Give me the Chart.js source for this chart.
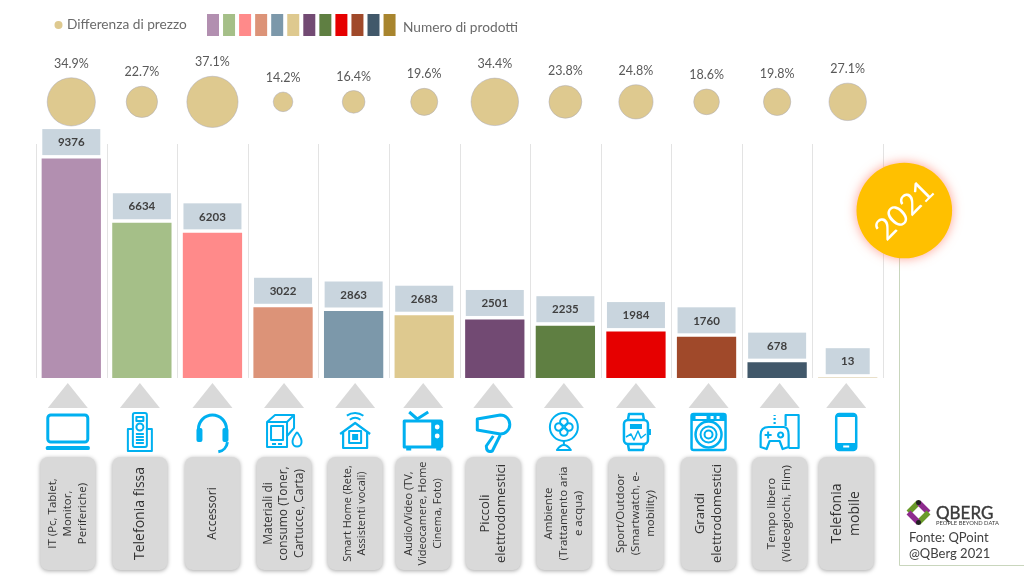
<!DOCTYPE html>
<html lang="it">
<head>
<meta charset="utf-8">
<title>Differenza di prezzo e numero di prodotti 2021</title>
<script src="https://cdn.jsdelivr.net/npm/chart.js@4"></script>
<style>
  html, body { margin: 0; background: #fff; }
  canvas { display: block; }
</style>
</head>
<body>
<canvas id="chart" width="1024" height="576"></canvas>
<script>
// dati
const categoryLines = [
  ['IT (Pc, Tablet,', 'Monitor,', 'Periferiche)'],
  ['Telefonia fissa'],
  ['Accessori'],
  ['Materiali di', 'consumo (Toner,', 'Cartucce, Carta)'],
  ['Smart Home (Rete,', 'Assistenti vocali)'],
  ['Audio/Video (TV,', 'Videocamere, Home', 'Cinema, Foto)'],
  ['Piccoli', 'elettrodomestici'],
  ['Ambiente', '(Trattamento aria', 'e acqua)'],
  ['Sport/Outdoor', '(Smartwatch, e-', 'mobility)'],
  ['Grandi', 'elettrodomestici'],
  ['Tempo libero', '(Videogiochi, Film)'],
  ['Telefonia', 'mobile']
];
const productCounts = [9376, 6634, 6203, 3022, 2863, 2683, 2501, 2235, 1984, 1760, 678, 13];
const priceDiffs = [34.9, 22.7, 37.1, 14.2, 16.4, 19.6, 34.4, 23.8, 24.8, 18.6, 19.8, 27.1];
const barColors = ['#b28fb0', '#a5bf88', '#ff8a8a', '#dc9378', '#7c98aa', '#dec98f',
  '#724a73', '#5f7f42', '#e60000', '#a0492a', '#41586a', '#a8852e'];

// stile e impaginazione
const BUBBLE_COLOR = '#dec98f';
const ICON_BLUE = '#00b0f0';
const BUBBLE_ROW = 81.7;
const Y_MAX = 14444; // l'area sale fino alle bolle, le barre restano a scala 10000 su 234px
const GRID_TOP = 144;
const labelSizes = [11.5, 14, 12, 12, 11, 11, 13, 11.5, 11.5, 13, 11.5, 14];
const rowNudge = [-3.5, -2, 0, 1, 1.5, -1, -1.5, -1.5, 0, 2, 2.5, -1.5];

const lato = (size, weight = '') => `${weight} ${size}px Lato`;

// icone di categoria, origine al centro dell'icona
const icons = [
  c => { // laptop
    c.beginPath(); c.roundRect(-20, -17, 40, 27, 3); c.stroke();
    c.beginPath(); c.roundRect(-22, 14, 44, 4, 1.5); c.fill();
  },
  c => { // cordless
    c.lineWidth = 2;
    c.strokeRect(-12, -3, 24, 22);
    c.beginPath(); c.roundRect(-7, -19, 14, 34, 2); c.fillStyle = '#fff'; c.fill(); c.stroke();
    c.strokeRect(-3.5, -15, 7, 4);
    c.beginPath(); c.arc(0, -5, 3.5, 0, 7); c.stroke();
    for (const y of [2, 5, 8, 11]) { c.beginPath(); c.moveTo(-4, y); c.lineTo(4, y); c.stroke(); }
  },
  c => { // cuffie
    c.beginPath(); c.arc(0, -3, 14, Math.PI, 0); c.stroke();
    c.fillStyle = ICON_BLUE;
    c.beginPath(); c.roundRect(-16, -4, 6, 14, 2); c.fill();
    c.beginPath(); c.roundRect(10, -4, 6, 14, 2); c.fill();
    c.beginPath(); c.arc(4, 9, 11, 0.1, 1.4); c.stroke();
  },
  c => { // toner
    c.lineWidth = 2;
    c.beginPath();
    c.moveTo(-17, 15); c.lineTo(-17, -10); c.lineTo(-9, -17); c.lineTo(10, -17);
    c.lineTo(10, -4); c.lineTo(3, 4); c.lineTo(3, 15); c.closePath(); c.stroke();
    c.beginPath(); c.moveTo(-17, -10); c.lineTo(3, -10); c.lineTo(10, -17); c.moveTo(3, -10); c.lineTo(3, 4); c.stroke();
    c.strokeRect(-13, -6, 12, 14);
    c.fillRect(-12, 11, 4, 2); c.fillRect(-6, 11, 4, 2);
    c.beginPath();
    c.moveTo(13, 0); c.quadraticCurveTo(18, 7, 17.5, 10);
    c.arc(13, 10, 4.5, 0, Math.PI); c.quadraticCurveTo(8, 7, 13, 0); c.stroke();
  },
  c => { // smart home
    c.lineWidth = 2.2;
    c.beginPath();
    c.moveTo(-15, 2); c.lineTo(0, -9); c.lineTo(15, 2);
    c.moveTo(-12, 0); c.lineTo(-12, 16); c.lineTo(12, 16); c.lineTo(12, 0); c.stroke();
    c.lineWidth = 2;
    c.strokeRect(-6, -1, 12, 12);
    c.fillRect(-3, 2, 6, 6);
    c.beginPath(); c.arc(0, -5, 9, -2.2, -0.94); c.stroke();
    c.beginPath(); c.arc(0, -5, 14, -2.2, -0.94); c.stroke();
  },
  c => { // tv
    c.beginPath(); c.moveTo(-14, -20); c.lineTo(-6, -13); c.lineTo(5, -20); c.stroke();
    c.strokeRect(-19, -11, 37, 26);
    c.fillRect(8, -11, 12, 26);
    c.fillStyle = '#fff';
    for (const y of [-5, 4]) { c.beginPath(); c.arc(14, y, 2.4, 0, 7); c.fill(); }
    c.fillStyle = ICON_BLUE;
    c.fillRect(-17, 15, 5, 3.5); c.fillRect(13, 15, 5, 3.5);
  },
  c => { // phon
    c.beginPath();
    c.moveTo(-16, -13); c.lineTo(7, -17);
    c.arc(7, -7.5, 9.5, -Math.PI / 2, Math.PI / 2);
    c.lineTo(-16, -2); c.closePath(); c.stroke();
    c.beginPath(); c.moveTo(0, 4); c.lineTo(-7, 14); c.quadraticCurveTo(-7, 21, -1, 19); c.lineTo(7, 3); c.stroke();
  },
  c => { // ventilatore
    c.lineWidth = 2;
    c.beginPath(); c.arc(0, -5, 14, 0, 7); c.stroke();
    for (const [dx, dy] of [[0, -5], [0, 5], [-5, 0], [5, 0]]) {
      c.beginPath(); c.arc(dx, dy - 5, 3.8, 0, 7); c.stroke();
    }
    c.beginPath(); c.moveTo(0, 9); c.lineTo(0, 13); c.stroke();
    c.beginPath(); c.moveTo(-7, 18); c.quadraticCurveTo(0, 8, 7, 18); c.closePath(); c.stroke();
  },
  c => { // smartwatch
    c.lineWidth = 2.5;
    c.beginPath(); c.roundRect(-12, -12, 24, 24, 4); c.stroke();
    c.beginPath(); c.moveTo(-8, -12); c.lineTo(-7, -18); c.lineTo(7, -18); c.lineTo(8, -12);
    c.moveTo(-8, 12); c.lineTo(-7, 18); c.lineTo(7, 18); c.lineTo(8, 12); c.stroke();
    c.fillRect(12, -3, 3, 6);
    c.fillRect(-6, -8, 12, 5);
    c.lineWidth = 1.5;
    c.beginPath(); c.moveTo(-10, 5); c.lineTo(-5, 2); c.lineTo(-2, 8); c.lineTo(2, -1);
    c.lineTo(5, 6); c.lineTo(10, 2); c.stroke();
  },
  c => { // lavatrice
    c.lineWidth = 2.5;
    c.beginPath(); c.roundRect(-17, -18, 34, 36, 2); c.stroke();
    c.fillRect(-17, -18, 34, 7);
    c.fillStyle = '#fff'; c.fillRect(-13, -16, 11, 3); c.fillRect(2, -16, 3, 3); c.fillRect(8, -16, 3, 3);
    c.beginPath(); c.arc(0, 2.5, 13, 0, 7); c.stroke();
    c.lineWidth = 2;
    c.beginPath(); c.arc(0, 2.5, 8, 0, 7); c.stroke();
    c.beginPath(); c.arc(0, 2.5, 4, 0, 7); c.stroke();
  },
  c => { // tempo libero
    c.lineWidth = 2.2;
    c.beginPath();
    c.moveTo(-19, 15); c.lineTo(-19, 3); c.quadraticCurveTo(-19, -5, -11, -5);
    c.lineTo(4, -5); c.quadraticCurveTo(9, -5, 9, 3); c.lineTo(9, 15);
    c.lineTo(3, 17); c.lineTo(0, 9); c.lineTo(-10, 9); c.lineTo(-13, 17); c.closePath(); c.stroke();
    c.beginPath(); c.moveTo(6, -6); c.lineTo(6, -17); c.lineTo(19, -17); c.lineTo(19, 16); c.lineTo(9, 16); c.stroke();
    c.fillRect(-15, 2, 7, 2); c.fillRect(-12.5, -0.5, 2, 7);
    c.beginPath(); c.arc(1, 3, 2.5, 0, 7); c.stroke();
    c.setLineDash([2, 2]); c.beginPath(); c.moveTo(-5, -8); c.lineTo(-5, -17); c.stroke(); c.setLineDash([]);
  },
  c => { // smartphone
    c.lineWidth = 2.5;
    c.beginPath(); c.roundRect(-10, -18, 20, 36, 3); c.stroke();
    c.fillRect(-10, -18, 20, 3);
    c.fillRect(-10, 11, 20, 7);
    c.fillStyle = '#fff'; c.fillRect(-3, 13.5, 6, 2);
  }
];

// marchio disegnato a mano
function drawLogo(c) {
  const cx = 918.5, cy = 512.5, r = 10;
  c.save();
  c.lineWidth = 5.5;
  const sides = [
    ['#6a9a2a', [cx - r, cy], [cx, cy - r]],
    ['#8e2b8e', [cx, cy - r], [cx + r, cy]],
    ['#6a9a2a', [cx + r, cy], [cx, cy + r]],
    ['#8e2b8e', [cx, cy + r], [cx - r, cy]]
  ];
  for (const [col, a, b] of sides) {
    c.strokeStyle = col;
    c.beginPath(); c.moveTo(...a); c.lineTo(...b); c.stroke();
  }
  c.fillStyle = '#222';
  for (const dy of [-r, r]) { c.beginPath(); c.arc(cx, cy + dy, 2.5, 0, 7); c.fill(); }
  c.fillStyle = '#3a3a3a';
  c.strokeStyle = '#3a3a3a';
  c.lineWidth = 0.4;
  c.textAlign = 'left';
  c.textBaseline = 'alphabetic';
  c.font = lato(17);
  c.fillText('QBERG', 936, 519);
  c.strokeText('QBERG', 936, 519);
  c.font = lato(5.8);
  c.fillText('PEOPLE BEYOND DATA', 936, 525);
  c.restore();
}

const sheetPlugin = {
  id: 'sheet',
  beforeDatasetsDraw(chart) {
    const c = chart.ctx;
    const xScale = chart.scales.x;
    const bottom = chart.chartArea.bottom;
    c.save();
    // griglia verticale solo sotto le bolle
    c.strokeStyle = '#e3e3e3';
    c.lineWidth = 1;
    const band = xScale.width / categoryLines.length;
    for (let i = 0; i <= categoryLines.length; i++) {
      const x = Math.round(xScale.left + i * band) + 0.5;
      c.beginPath(); c.moveTo(x, GRID_TOP); c.lineTo(x, bottom); c.stroke();
    }
    // cornice di destra
    c.strokeStyle = '#c9d6bd';
    c.beginPath(); c.moveTo(899.5, 258); c.lineTo(899.5, 565.5); c.lineTo(1024, 565.5); c.stroke();
    c.restore();
  },
  afterDatasetsDraw(chart) {
    const c = chart.ctx;
    const xScale = chart.scales.x;
    const barMeta = chart.getDatasetMeta(0);
    const bubbleMeta = chart.getDatasetMeta(1);
    c.save();

    // legenda
    c.fillStyle = BUBBLE_COLOR;
    c.beginPath(); c.arc(58.5, 25, 4, 0, 7); c.fill();
    c.fillStyle = '#6b6b6b';
    c.font = lato(13.7);
    c.textAlign = 'left';
    c.textBaseline = 'middle';
    c.fillText('Differenza di prezzo', 67, 25);
    c.fillText('Numero di prodotti', 403, 28);
    barColors.forEach((col, i) => {
      c.fillStyle = col;
      c.fillRect(207 + i * 16.05, 14, 12, 22);
    });

    // etichette delle bolle
    c.textAlign = 'center';
    c.fillStyle = '#595959';
    c.font = lato(12.5);
    bubbleMeta.data.forEach((pt, i) => {
      c.fillText(priceDiffs[i].toFixed(1) + '%', pt.x, pt.y - pt.options.radius - 14);
    });

    // riquadri dei valori
    barMeta.data.forEach((bar, i) => {
      const w = i === 11 ? 44 : 58;
      c.fillStyle = '#c9d5de';
      c.fillRect(bar.x - w / 2, bar.y - 29.5, w, 26);
      c.fillStyle = '#404040';
      c.font = lato(11.5, 'bold');
      c.fillText(String(productCounts[i]), bar.x, bar.y - 16);
    });

    // triangoli, icone e riquadri delle categorie
    categoryLines.forEach((lines, i) => {
      const x = xScale.getPixelForTick(i) + rowNudge[i];
      c.fillStyle = '#d9d9d9';
      c.beginPath(); c.moveTo(x, 383); c.lineTo(x + 20, 408); c.lineTo(x - 20, 408); c.closePath(); c.fill();

      c.save();
      c.translate(x, 432);
      c.strokeStyle = c.fillStyle = ICON_BLUE;
      c.lineWidth = 3;
      c.lineJoin = 'round';
      icons[i](c);
      c.restore();

      c.save();
      c.shadowColor = 'rgba(0,0,0,0.35)';
      c.shadowBlur = 4;
      c.shadowOffsetY = 1;
      c.fillStyle = '#d9d9d9';
      c.beginPath(); c.roundRect(x - 27.5, 457, 55, 113, 8); c.fill();
      c.restore();

      c.save();
      c.translate(x, 513.5);
      c.rotate(-Math.PI / 2);
      c.fillStyle = '#333333';
      const size = labelSizes[i];
      c.font = `${size}px "Open Sans"`;
      const lh = size * 1.3;
      lines.forEach((line, k) => c.fillText(line, 0, (k - (lines.length - 1) / 2) * lh));
      c.restore();
    });

    // bollino anno
    c.save();
    c.shadowColor = 'rgba(255,130,110,0.75)';
    c.shadowBlur = 11;
    c.fillStyle = '#ffc000';
    c.beginPath(); c.arc(904.3, 210.5, 47.8, 0, 7); c.fill();
    c.restore();
    c.save();
    c.translate(904.3, 210.5);
    c.rotate(-Math.PI / 4);
    c.fillStyle = '#fff';
    c.font = lato(30);
    c.fillText('2021', 0, 0);
    c.restore();

    // fonte
    drawLogo(c);
    c.textAlign = 'left';
    c.textBaseline = 'alphabetic';
    c.fillStyle = '#404040';
    c.font = lato(13);
    c.fillText('Fonte: QPoint', 909, 541.5);
    c.fillText('@QBerg 2021', 909, 558);
    c.restore();
  }
};

new Chart(document.getElementById('chart'), {
  data: {
    labels: categoryLines,
    datasets: [
      {
        type: 'bar',
        data: productCounts,
        backgroundColor: barColors,
        barPercentage: 0.84,
        categoryPercentage: 1,
        yAxisID: 'y',
        order: 2
      },
      {
        type: 'bubble',
        data: priceDiffs.map((d, i) => ({ x: i, y: BUBBLE_ROW, r: d * 0.69 })),
        backgroundColor: BUBBLE_COLOR,
        borderColor: 'rgba(170,170,185,0.5)',
        borderWidth: 1,
        yAxisID: 'yRow',
        order: 1
      }
    ]
  },
  options: {
    responsive: false,
    animation: false,
    layout: { autoPadding: false, padding: { left: 36, right: 141, top: 40, bottom: 198 } },
    plugins: { legend: { display: false }, tooltip: { enabled: false } },
    scales: {
      x: {
        type: 'category',
        offset: true,
        grid: { display: false, drawTicks: false },
        border: { display: false },
        ticks: { display: false }
      },
      y: { display: false, min: 0, max: Y_MAX },
      yRow: { display: false, min: 0, max: 100 }
    }
  },
  plugins: [sheetPlugin]
});
</script>
</body>
</html>
